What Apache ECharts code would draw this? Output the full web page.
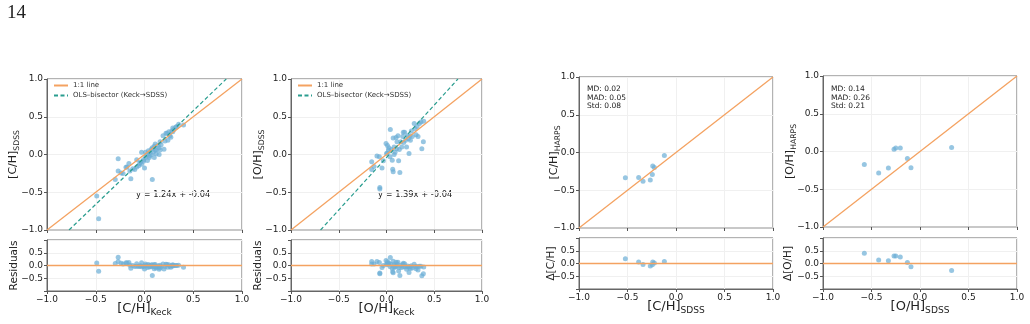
<!DOCTYPE html>
<html>
<head>
<meta charset="utf-8">
<script src="https://cdn.jsdelivr.net/npm/echarts@6/dist/echarts.min.js"></script>
<style>
html, body { margin: 0; padding: 0; background: #fff; }
#chart { width: 1030px; height: 324px; }
</style>
</head>
<body>
<div id="chart"></div>
<script>
// [C/H]: Keck (x) vs SDSS (y)
const cKeck = [
  -0.49, -0.47, -0.27, -0.27, -0.24, -0.22, -0.30, -0.19, -0.18, -0.16,
  -0.14, -0.15, -0.12, -0.10, -0.08, -0.08, -0.06, -0.05, -0.03, -0.04,
  -0.01, -0.01, 0.00, 0.01, 0.01, 0.02, 0.03, 0.04, 0.05, 0.05,
  0.07, 0.07, 0.08, 0.08, 0.09, 0.10, 0.10, 0.11, 0.12, 0.12,
  0.14, 0.15, 0.15, 0.16, 0.17, 0.19, 0.20, 0.21, 0.22, 0.23,
  0.24, 0.25, 0.26, 0.27, 0.28, 0.29, 0.29, 0.30, 0.32, 0.33,
  0.35, 0.40, -0.03, 0.05, 0.11, 0.16
]
const cSdss = [
  -0.55, -0.85, -0.055, -0.22, -0.245, -0.25, -0.33, -0.17, -0.165, -0.12,
  -0.32, -0.22, -0.19, -0.20, -0.07, -0.165, -0.15, -0.12, -0.13, -0.10,
  -0.09, -0.07, -0.18, -0.04, 0.03, -0.01, -0.08, 0.05, 0.02, -0.02,
  0.07, 0.00, -0.33, 0.09, 0.03, -0.04, 0.11, 0.14, 0.06, 0.01,
  0.12, 0.09, 0.00, 0.17, 0.13, 0.25, 0.07, 0.18, 0.28, 0.28,
  0.19, 0.30, 0.25, 0.23, 0.31, 0.30, 0.35, 0.33, 0.36, 0.37,
  0.40, 0.39, 0.03, -0.04, 0.06, 0.06
]

// [O/H]: Keck (x) vs SDSS (y)
const oKeck = [
  -0.07, -0.07, -0.155, -0.155, -0.13, -0.10, -0.075, -0.047, -0.033, -0.005,
  0.00, 0.01, 0.02, 0.025, 0.036, 0.04, 0.05, 0.06, 0.065, 0.07,
  0.07, 0.08, 0.09, 0.10, 0.106, 0.11, 0.12, 0.127, 0.134, 0.14,
  0.15, 0.16, 0.17, 0.176, 0.18, 0.19, 0.20, 0.21, 0.22, 0.23,
  0.236, 0.246, 0.25, 0.26, 0.27, 0.29, 0.30, 0.31, 0.32, 0.33,
  0.344, 0.36, 0.37, 0.386, 0.39, 0.08, 0.01
]
const oSdss = [
  -0.436, -0.458, -0.097, -0.198, -0.16, -0.02, -0.03, -0.18, -0.084, 0.145,
  0.013, 0.12, 0.06, 0.09, -0.03, 0.33, 0.066, -0.075, -0.194, -0.23,
  0.22, 0.10, 0.03, 0.225, 0.075, 0.17, 0.25, -0.084, 0.066, -0.24,
  0.17, 0.10, 0.24, 0.295, 0.16, 0.295, 0.19, 0.10, 0.25, 0.21,
  0.013, 0.25, 0.19, 0.31, 0.24, 0.41, 0.34, 0.26, 0.37, 0.24,
  0.41, 0.43, 0.075, 0.17, 0.44, 0.00, 0.02
]

// SDSS (x) vs HARPS (y)
const cSdssH = [-0.522, -0.385, -0.34, -0.265, -0.244, -0.24, -0.223, -0.12]
const cHarps = [-0.333, -0.33, -0.38, -0.364, -0.29, -0.18, -0.20, -0.04]
const oSdssH = [-0.574, -0.426, -0.326, -0.268, -0.25, -0.203, -0.13, -0.093, 0.326]
const oHarps = [-0.172, -0.286, -0.22, 0.031, 0.048, 0.048, -0.093, -0.216, 0.053]

// OLS-bisector fits (slope, intercept)
const fitC = [1.24, -0.04]
const fitO = [1.39, -0.04]

// summary stats shown in the HARPS panels: MD, MAD, Std
const statsC = [0.02, 0.05, 0.08]
const statsO = [0.14, 0.26, 0.21]

const ORANGE = '#f4a261'
const TEAL = '#2a9d8f'
const BLUE = '#6baed6'
const FONT = 'DejaVu Sans'

const chart = echarts.init(document.getElementById('chart'))

const fmt = v => v.toFixed(1).replace('-', '\u2212')

const label = (main, sub, size) => ({
  text: `{m|${main}}{s|${sub}}`,
  rich: {
    m: { fontSize: size, fontFamily: FONT, color: '#222', lineHeight: size + 2, verticalAlign: 'top' },
    s: { fontSize: size * 0.7, fontFamily: FONT, color: '#222', lineHeight: size * 0.7, verticalAlign: 'bottom', padding: [size * 0.6, 0, 0, 0] }
  }
})

const panels = [
  { left: 47, width: 195, top: 79, rtop: 240, x: cKeck, y: cSdss, fit: fitC,
    yName: ['[C/H]', 'SDSS'], rName: 'Residuals', xName: ['[C/H]', 'Keck'], yGap: 26, rGap: 27 },
  { left: 291, width: 191, top: 79, rtop: 240, x: oKeck, y: oSdss, fit: fitO,
    yName: ['[O/H]', 'SDSS'], rName: 'Residuals', xName: ['[O/H]', 'Keck'], yGap: 25, rGap: 27 },
  { left: 579, width: 194, top: 77, rtop: 238, x: cSdssH, y: cHarps, fit: null, stats: statsC,
    yName: ['[C/H]', 'HARPS'], rName: 'Δ[C/H]', xName: ['[C/H]', 'SDSS'], yGap: 17, rGap: 22 },
  { left: 823, width: 194, top: 76, rtop: 238, x: oSdssH, y: oHarps, fit: null, stats: statsO,
    yName: ['[O/H]', 'HARPS'], rName: 'Δ[O/H]', xName: ['[O/H]', 'SDSS'], yGap: 25, rGap: 29 }
]

const grid = []
const xAxis = []
const yAxis = []
const series = []
const graphic = []
const legend = []

const splitLine = { show: true, lineStyle: { color: '#f0f0f0', width: 1 } }
const tick = { show: true, length: 3, lineStyle: { color: '#555' } }
const tickLabel = { color: '#222', fontSize: 9, fontFamily: FONT, margin: 4, hideOverlap: false }
const frameLine = { show: true, onZero: false, lineStyle: { color: '#666' } }

panels.forEach((p, i) => {
  const gm = i * 2
  const gr = i * 2 + 1
  grid.push({ left: p.left, top: p.top, width: p.width, height: 151, show: true, borderColor: '#666', borderWidth: 1, outerBoundsMode: 'none' })
  grid.push({ left: p.left, top: p.rtop, width: p.width, height: 51, show: true, borderColor: '#666', borderWidth: 1, outerBoundsMode: 'none' })

  const xl = label(p.xName[0], p.xName[1], 13)
  xAxis.push({
    gridIndex: gm, type: 'value', min: -1, max: 1, interval: 0.5,
    axisLine: { show: true, onZero: false, lineStyle: { color: '#c8c8c8', width: 2 } },
    axisTick: tick, axisLabel: { show: false }, splitLine
  })
  xAxis.push({
    gridIndex: gr, type: 'value', min: -1, max: 1, interval: 0.5,
    axisLine: frameLine,
    axisTick: tick, axisLabel: { ...tickLabel, formatter: fmt }, splitLine,
    name: xl.text, nameLocation: 'middle', nameGap: 11, nameMoveOverlap: false,
    nameTextStyle: { rich: xl.rich }
  })

  const yl = label(p.yName[0], p.yName[1], 11)
  yAxis.push({
    gridIndex: gm, type: 'value', min: -1, max: 1, interval: 0.5,
    axisLine: frameLine,
    axisTick: tick, axisLabel: { ...tickLabel, formatter: fmt }, splitLine,
    name: yl.text, nameLocation: 'middle', nameRotate: 90, nameGap: p.yGap, nameMoveOverlap: false,
    nameTextStyle: { rich: yl.rich }
  })
  yAxis.push({
    gridIndex: gr, type: 'value', min: -1, max: 1, interval: 0.5,
    axisLine: frameLine,
    axisTick: tick,
    axisLabel: { ...tickLabel, showMinLabel: true, showMaxLabel: true, formatter: v => Math.abs(v) > 0.9 ? '' : fmt(v) },
    splitLine,
    name: p.rName, nameLocation: 'middle', nameRotate: 90, nameGap: p.rGap, nameMoveOverlap: false,
    nameTextStyle: { fontSize: 10.5, fontFamily: FONT, color: '#222' }
  })

  const pts = p.x.map((v, k) => [v, p.y[k]])
  // residuals: against the fit for Keck panels, HARPS - SDSS otherwise
  const res = p.x.map((v, k) => [v, p.fit ? p.y[k] - (p.fit[0] * v + p.fit[1]) : p.y[k] - v])

  const scatterStyle = { color: BLUE, opacity: 0.7 }
  series.push({
    type: 'scatter', xAxisIndex: gm, yAxisIndex: gm, data: pts,
    symbolSize: 5, itemStyle: scatterStyle, z: 2
  })
  series.push({
    type: 'line', name: '1:1 line', xAxisIndex: gm, yAxisIndex: gm,
    data: [[-1, -1], [1, 1]], symbol: 'none', z: 3,
    lineStyle: { color: ORANGE, width: 1.3 }, itemStyle: { color: ORANGE }
  })
  if (p.fit) {
    const [a, b] = p.fit
    series.push({
      type: 'line', name: 'OLS\u2013bisector (Keck\u2192SDSS)', xAxisIndex: gm, yAxisIndex: gm,
      data: [[(-1 - b) / a, -1], [(1 - b) / a, 1]], symbol: 'none', z: 3,
      lineStyle: { color: TEAL, width: 1.2, type: [4, 2.5] }, itemStyle: { color: TEAL }
    })
    legend.push({
      left: p.left + 6, top: 82, orient: 'vertical', padding: 0,
      itemWidth: 14, itemHeight: 8, itemGap: 3,
      itemStyle: { opacity: 0 },
      data: ['1:1 line', 'OLS\u2013bisector (Keck\u2192SDSS)'],
      textStyle: { fontSize: 7, fontFamily: FONT, color: '#333' },
      selectedMode: false
    })
    graphic.push({
      type: 'text', left: p.left + (i === 0 ? 89 : 87), top: 191,
      style: { text: `y = ${a.toFixed(2)}x + ${b.toFixed(2)}`, fontSize: 8.3, fontFamily: FONT, fill: '#222' }
    })
  } else {
    graphic.push({
      type: 'text', left: p.left + 8, top: 85,
      style: {
        text: `MD: ${p.stats[0].toFixed(2)}\nMAD: ${p.stats[1].toFixed(2)}\nStd: ${p.stats[2].toFixed(2)}`,
        fontSize: 7.5, lineHeight: 8.6, fontFamily: FONT, fill: '#222'
      }
    })
  }
  series.push({
    type: 'scatter', xAxisIndex: gr, yAxisIndex: gr, data: res,
    symbolSize: 5, itemStyle: scatterStyle, z: 2
  })
  series.push({
    type: 'line', xAxisIndex: gr, yAxisIndex: gr,
    data: [[-1, 0], [1, 0]], symbol: 'none', z: 3,
    lineStyle: { color: ORANGE, width: 1.3 }
  })
})

graphic.push({
  type: 'text', left: 7, top: 4,
  style: { text: '14', fontSize: 19, fontFamily: 'Liberation Serif', fill: '#222' }
})

chart.setOption({
  animation: false,
  backgroundColor: '#fff',
  grid, xAxis, yAxis, series, legend, graphic
})
</script>
</body>
</html>
